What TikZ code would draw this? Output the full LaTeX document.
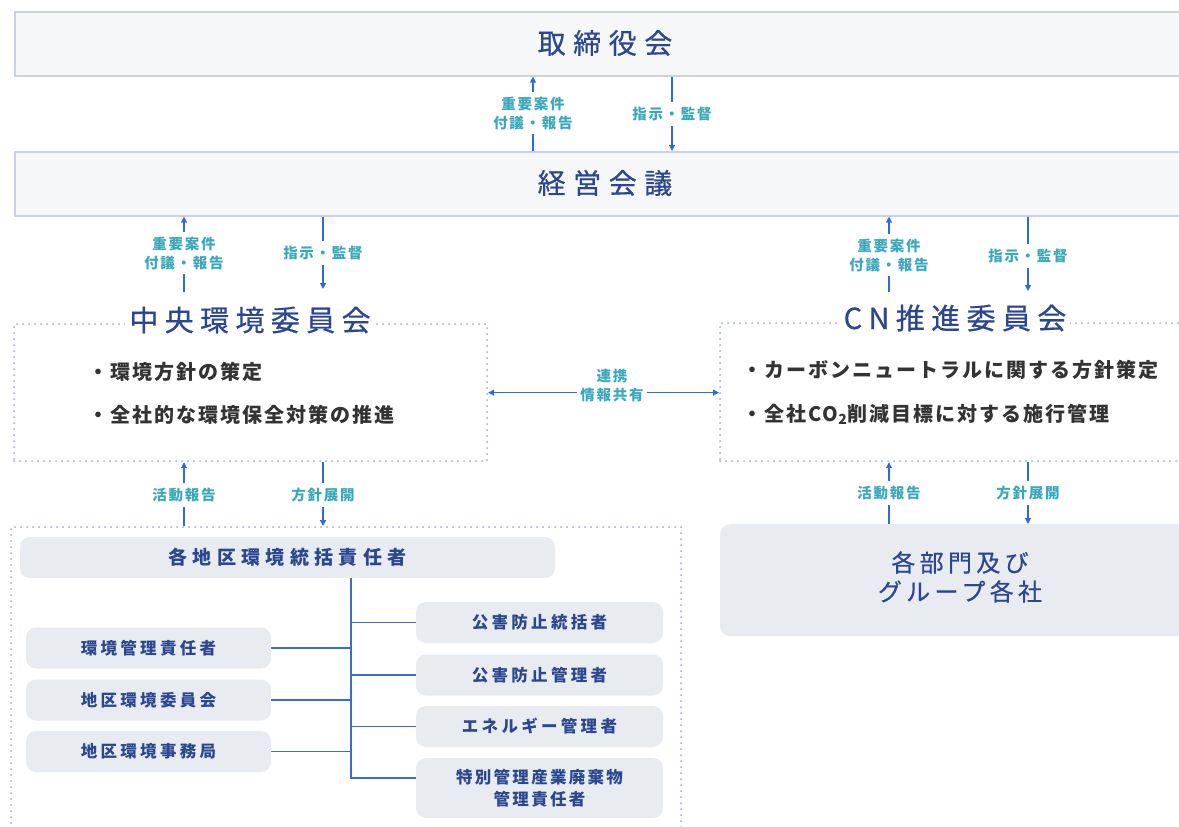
\documentclass[tikz,border=0pt]{standalone}
\usepackage{fontspec}
\setmainfont{Noto Sans CJK JP}
\usetikzlibrary{arrows.meta}
\definecolor{boxfill}{HTML}{F6F7F9}
\definecolor{boxline}{HTML}{C8D2E3}
\definecolor{navy}{HTML}{2B4790}
\definecolor{arrowblue}{HTML}{2F6BE0}
\definecolor{labc}{HTML}{3AA8BC}
\definecolor{dotc}{HTML}{A9B9DA}
\definecolor{grayfill}{HTML}{E8ECF1}
\definecolor{bulletc}{HTML}{333333}
\definecolor{treec}{HTML}{3A6CD8}
\newcommand{\jpf}[3]{\fontsize{#1}{#2}\selectfont\addfontfeature{LetterSpace=#3}}
\newcommand{\jpfb}[3]{\fontsize{#1}{#2}\selectfont\addfontfeature{LetterSpace=#3,FakeBold=0.6}}
\tikzset{
  bigbox/.style={draw=boxline, line width=1.6pt, fill=boxfill, anchor=north west, inner sep=0pt, minimum height=64pt, minimum width=1190pt},
  bigtitle/.style={text=navy, font=\jpfb{28}{30}{27}, inner sep=0pt},
  dotbox/.style={draw=dotc, line width=2.2pt, dash pattern=on 0pt off 6pt, line cap=round, anchor=north west, inner sep=0pt},
  cmtitle/.style={text=navy, font=\jpfb{29}{32}{22}, fill=white, inner xsep=4pt, inner ysep=0pt},
  bul/.style={text=bulletc, font=\bfseries\jpf{20}{24}{10}, anchor=west, inner sep=0pt},
  lab/.style={text=labc, font=\bfseries\jpf{14.5}{19}{12}, align=center, inner sep=0pt, outer sep=5pt},
  arr/.style={draw=arrowblue, line width=1.3pt, -{Triangle[length=6pt,width=6pt]}},
  ln/.style={draw=arrowblue, line width=1.3pt},
  gbox/.style={fill=grayfill, rounded corners=10pt, text=navy, inner sep=0pt, align=center},
  sbox/.style={gbox, minimum width=245pt, minimum height=41pt, font=\bfseries\jpf{16.5}{22}{20}},
  tree/.style={draw=treec, line width=1.6pt},
}
\begin{document}
\begin{tikzpicture}[x=1pt,y=-1pt]
\useasboundingbox (0,0) rectangle (1179,827);
\clip (0,0) rectangle (1179,827);
\fill[white] (0,0) rectangle (1179,827);

% top boxes
\node[bigbox] (tb) at (14,11) {};
\node[bigtitle] (tbt) at (605,43) {取締役会};
\node[bigbox] (kb) at (14,151) {};
\node[bigtitle] (kbt) at (605,183) {経営会議};

% arrows between top boxes
\node[lab] (l1) at (533,113) {重要案件\\付議・報告};
\draw[ln] (kb.north -| l1) -- (l1.south);
\draw[arr] (l1.north) -- (tb.south -| l1);
\node[lab] (l2) at (672,114) {指示・監督};
\draw[ln] (tb.south -| l2) -- (l2.north);
\draw[arr] (l2.south) -- (kb.north -| l2);

% committees
\node[dotbox, minimum width=473pt, minimum height=137pt] (ck) at (13,323) {};
\node[cmtitle] (ckt) at (250,320) {中央環境委員会};
\node[bul] (b1) at (88,372) {・環境方針の策定};
\node[bul] (b2) at (88,415) {・全社的な環境保全対策の推進};

\node[dotbox, minimum width=490pt, minimum height=138pt] (cn) at (719,322) {};
\node[cmtitle] (cnt) at (955,318) {CN推進委員会};
\node[bul] (b3) at (742,370) {・カーボンニュートラルに関する方針策定};
\node[bul] (b4) at (742,414) {・全社CO\textsubscript{2}削減目標に対する施行管理};

% arrows keiei <-> committees
\node[lab] (l3) at (184,253) {重要案件\\付議・報告};
\coordinate (c3) at (184,292);
\draw[ln] (c3) -- (l3.south);
\draw[arr] (l3.north) -- (kb.south -| l3);
\node[lab] (l4) at (323,253) {指示・監督};
\draw[ln] (kb.south -| l4) -- (l4.north);
\coordinate (c4) at (323,289);
\draw[arr] (l4.south) -- (c4);

\node[lab] (l5) at (889,255) {重要案件\\付議・報告};
\coordinate (c5) at (889,292);
\draw[ln] (c5) -- (l5.south);
\draw[arr] (l5.north) -- (kb.south -| l5);
\node[lab] (l6) at (1028,256) {指示・監督};
\draw[ln] (kb.south -| l6) -- (l6.north);
\coordinate (c6) at (1028,291);
\draw[arr] (l6.south) -- (c6);

% link between committees
\node[lab, outer sep=3pt] (l7) at (612,385) {連携\\情報共有};
\draw[arr] (l7.west |- ck.east) -- (ck.east);
\draw[arr] (l7.east |- ck.east) -- (cn.west |- ck.east);

% lower left group
\node[dotbox, minimum width=670pt, minimum height=380pt] (lb) at (10,526) {};
\node[lab] (l8) at (184,495) {活動報告};
\draw[ln] (lb.north -| l8) -- (l8.south);
\draw[arr] (l8.north) -- (ck.south -| l8);
\node[lab] (l9) at (323,495) {方針展開};
\draw[ln] (ck.south -| l9) -- (l9.north);
\draw[arr] (l9.south) -- (lb.north -| l9);

% lower right
\node[gbox, anchor=north west, minimum width=500pt, minimum height=112pt] (bm) at (720,524) {};
\node[text=navy, font=\jpfb{24}{29}{18}, align=center, inner sep=0pt] (bmt) at (960,577) {各部門及び\\グループ各社};
\node[lab] (l10) at (889,493) {活動報告};
\draw[ln] (bm.north -| l10) -- (l10.south);
\draw[arr] (l10.north) -- (cn.south -| l10);
\node[lab] (l11) at (1028,493) {方針展開};
\draw[ln] (cn.south -| l11) -- (l11.north);
\draw[arr] (l11.south) -- (bm.north -| l11);

% tree inside lower-left
\node[gbox, minimum width=535pt, minimum height=41pt, font=\bfseries\jpf{19}{22}{28}] (ra) at (287.5,557.5) {各地区環境統括責任者};
\node[sbox] (a1) at (148.5,648) {環境管理責任者};
\node[sbox] (a2) at (148.5,700) {地区環境委員会};
\node[sbox] (a3) at (148.5,751.5) {地区環境事務局};
\node[sbox, minimum width=247pt] (r1) at (539.5,622.5) {公害防止統括者};
\node[sbox, minimum width=247pt] (r2) at (539.5,675) {公害防止管理者};
\node[sbox, minimum width=247pt] (r3) at (539.5,726.5) {エネルギー管理者};
\node[sbox, minimum width=247pt, minimum height=60pt, font=\bfseries\jpf{16.5}{22}{14}] (r4) at (539.5,788) {特別管理産業廃棄物\\管理責任者};

\coordinate (sp) at (351,778);
\draw[tree] (ra.south -| sp) -- (sp) -- (sp -| r4.west);
\draw[tree] (a1.east) -- (a1.east -| sp);
\draw[tree] (a2.east) -- (a2.east -| sp);
\draw[tree] (a3.east) -- (a3.east -| sp);
\draw[tree] (r1.west) -- (r1.west -| sp);
\draw[tree] (r2.west) -- (r2.west -| sp);
\draw[tree] (r3.west) -- (r3.west -| sp);
\end{tikzpicture}
\end{document}
